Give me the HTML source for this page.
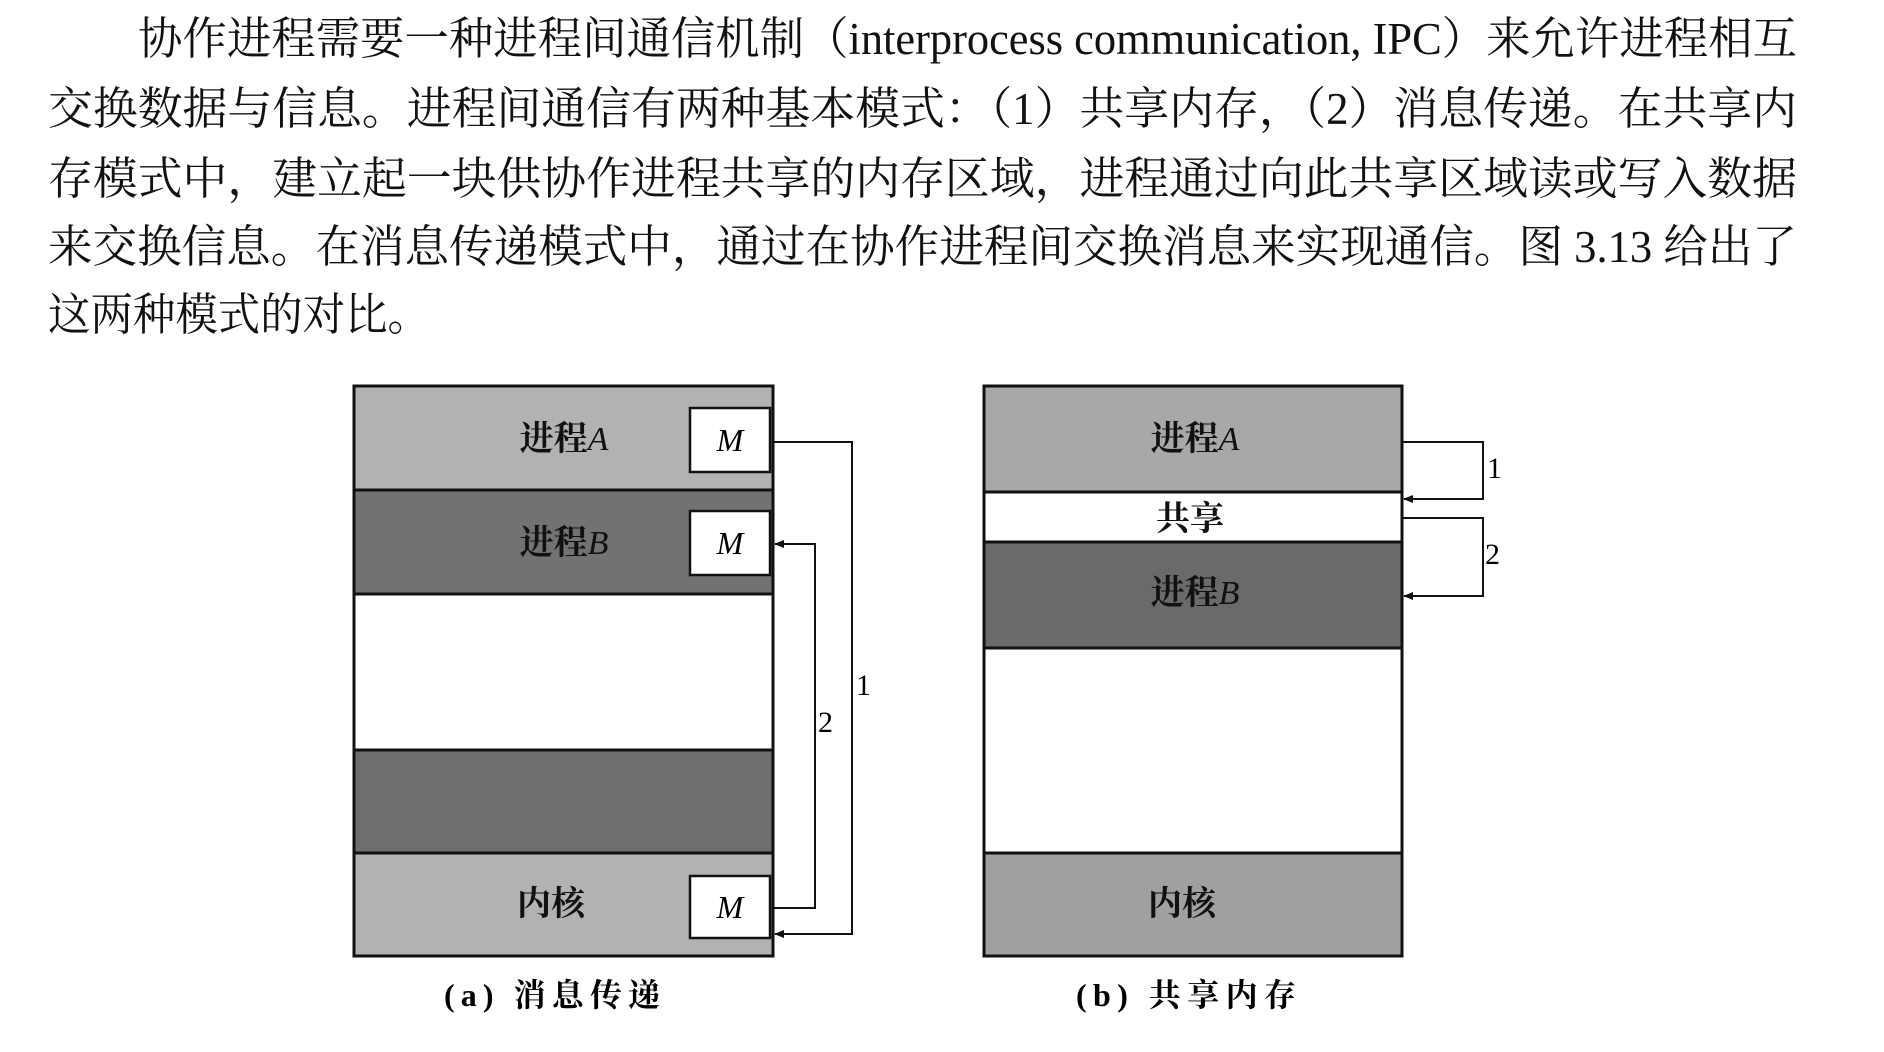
<!DOCTYPE html>
<html><head><meta charset="utf-8"><style>
body{margin:0;width:1884px;height:1052px;background:#fff;overflow:hidden;position:relative;color:#111}
</style></head><body>
<svg width="1884" height="1052" style="position:absolute;left:0;top:0" font-family="Liberation Serif, Noto Serif CJK SC, serif">
<g font-size="45" fill="#111" lengthAdjust="spacingAndGlyphs">
<text x="138" y="54" textLength="1659" lengthAdjust="spacingAndGlyphs">协作进程需要一种进程间通信机制（interprocess communication, IPC）来允许进程相互</text>
<text x="48" y="124" textLength="1749" lengthAdjust="spacingAndGlyphs">交换数据与信息。进程间通信有两种基本模式：（1）共享内存，（2）消息传递。在共享内</text>
<text x="48" y="194" textLength="1749" lengthAdjust="spacingAndGlyphs">存模式中，建立起一块供协作进程共享的内存区域，进程通过向此共享区域读或写入数据</text>
<text x="48" y="262" textLength="1749" lengthAdjust="spacingAndGlyphs">来交换信息。在消息传递模式中，通过在协作进程间交换消息来实现通信。图 3.13 给出了</text>
<text x="48" y="330" textLength="382" lengthAdjust="spacingAndGlyphs">这两种模式的对比。</text>
</g>
<defs><marker id="ar" markerWidth="10" markerHeight="8" refX="9" refY="4" orient="auto" markerUnits="userSpaceOnUse"><path d="M0,0L10,4L0,8Z" fill="#111"/></marker></defs>
<g stroke="#111" stroke-width="3">
<rect x="354" y="386" width="419" height="104" fill="#b2b2b2"/>
<rect x="354" y="490" width="419" height="104" fill="#727272"/>
<rect x="354" y="594" width="419" height="156" fill="#fff"/>
<rect x="354" y="750" width="419" height="103" fill="#6e6e6e"/>
<rect x="354" y="853" width="419" height="103" fill="#b2b2b2"/>
<rect x="690" y="408" width="80" height="64" fill="#fff" stroke-width="2.5"/>
<rect x="690" y="511" width="80" height="64" fill="#fff" stroke-width="2.5"/>
<rect x="690" y="876" width="80" height="62" fill="#fff" stroke-width="2.5"/>
<rect x="984" y="386" width="418" height="106" fill="#a8a8a8"/>
<rect x="984" y="492" width="418" height="50" fill="#fff"/>
<rect x="984" y="542" width="418" height="106" fill="#6a6a6a"/>
<rect x="984" y="648" width="418" height="205" fill="#fff"/>
<rect x="984" y="853" width="418" height="103" fill="#a0a0a0"/>
</g>
<g stroke="#111" stroke-width="2" fill="none" marker-end="url(#ar)">
<path d="M773,442H852V934H775"/>
<path d="M773,908H815V544H775"/>
<path d="M1402,442H1483V499H1404"/>
<path d="M1402,518H1483V596H1404"/>
</g>
<g font-size="34" font-weight="bold" text-anchor="middle" fill="#111">
<text x="564" y="450">进程<tspan font-style="italic" font-weight="normal">A</tspan></text>
<text x="564" y="554">进程<tspan font-style="italic" font-weight="normal">B</tspan></text>
<text x="551" y="915">内核</text>
<text x="1195" y="450">进程<tspan font-style="italic" font-weight="normal">A</tspan></text>
<text x="1190" y="530">共享</text>
<text x="1195" y="604">进程<tspan font-style="italic" font-weight="normal">B</tspan></text>
<text x="1182" y="915">内核</text>
</g>
<g font-size="32" font-style="italic" text-anchor="middle">
<text x="730" y="451">M</text><text x="730" y="554">M</text><text x="730" y="918">M</text>
</g>
<g font-size="30">
<text x="856" y="695">1</text><text x="818" y="732">2</text>
<text x="1487" y="478">1</text><text x="1485" y="564">2</text>
</g>
<g font-size="32" font-weight="bold">
<text x="444" y="1006" textLength="216" lengthAdjust="spacing">(a) 消息传递</text>
<text x="1076" y="1006" textLength="220" lengthAdjust="spacing">(b) 共享内存</text>
</g>
</svg>
</body></html>
